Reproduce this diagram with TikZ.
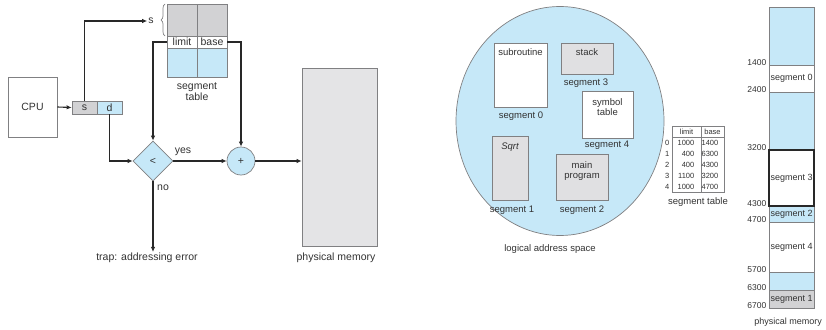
\documentclass[tikz,border=0pt]{standalone}
\usepackage{fontspec}
\setmainfont{Liberation Sans}
\usetikzlibrary{shapes.geometric,arrows.meta,decorations.pathreplacing,calc}

\definecolor{segblue}{RGB}{198,232,248}
\definecolor{cellgray}{RGB}{210,210,212}
\definecolor{memgray}{RGB}{228,228,230}
\definecolor{boxgray}{RGB}{224,224,226}
\definecolor{edgegray}{RGB}{128,128,130}
\definecolor{inkdark}{RGB}{40,40,40}
\definecolor{txt}{RGB}{50,50,50}

\tikzset{
  every node/.style={text=txt},
  plainbox/.style={draw=edgegray, line width=0.7pt, inner sep=0pt},
  lbl/.style={font=\fontsize{10.5}{12}\selectfont, inner sep=1pt},
  rlbl/.style={font=\fontsize{9.5}{11}\selectfont, inner sep=1pt},
  small/.style={font=\fontsize{7.5}{8.5}\selectfont, inner sep=0.5pt},
  memlbl/.style={font=\fontsize{9}{10}\selectfont, inner sep=0.5pt},
  addr/.style={font=\fontsize{8.5}{9.5}\selectfont, inner sep=0.5pt},
  arr/.style={draw=inkdark, line width=1.1pt, -{Latex[length=5pt,width=4.5pt]}},
}

\begin{document}
\begin{tikzpicture}[x=1pt,y=-1pt]
\useasboundingbox (0,0) rectangle (826,329);

% ---------- segmentation hardware ----------
\node[plainbox, minimum width=49, minimum height=60, lbl] (cpu) at (32.5,107) {CPU};
\node[plainbox, fill=cellgray, minimum width=25, minimum height=13, lbl] (sreg) at (84.5,107.5) {s};
\node[plainbox, fill=segblue, minimum width=25, minimum height=13, lbl] (dreg) at (109.5,107.5) {d};
\draw[arr] (cpu.east) -- (sreg.west);

% segment table
\node[plainbox, fill=cellgray, minimum width=30, minimum height=32] (g1) at (182,20) {};
\node[plainbox, fill=cellgray, minimum width=30, minimum height=32] (g2) at (212,20) {};
\node[plainbox, fill=white, minimum width=30, minimum height=12, lbl] (limitcell) at (182,42) {limit};
\node[plainbox, fill=white, minimum width=30, minimum height=12, lbl] (basecell) at (212,42) {base};
\node[plainbox, fill=segblue, minimum width=30, minimum height=29] (b1) at (182,62.5) {};
\node[plainbox, fill=segblue, minimum width=30, minimum height=29] (b2) at (212,62.5) {};
\node[lbl, align=center] (segtablbl) at (197,92) {segment\\[-1pt]table};

% selector into the table
\node[lbl] (sidx) at (151,21) {s};
\draw[edgegray, line width=0.7pt, decorate,
      decoration={brace, amplitude=4pt}] (165,36) -- (165,4);
\draw[arr] (sreg.north) |- (sidx.west);

% comparison and addition
\node[diamond, draw=edgegray, line width=0.7pt, fill=segblue, aspect=1,
      minimum width=40, minimum height=40, inner sep=0pt, lbl] (lt) at (153,161) {<};
\node[circle, draw=edgegray, line width=0.7pt, fill=segblue,
      minimum size=28, inner sep=0pt, lbl] (plus) at (241,161) {+};
\node[plainbox, fill=memgray, minimum width=75, minimum height=178] (phys) at (339.5,157) {};
\node[lbl] (physlbl) at (336,258) {physical memory};
\node[lbl] (trap) at (147,258) {trap: addressing error};

\draw[arr] (limitcell.west) -| (lt.north);
\draw[arr] (basecell.east) -| (plus.north);
\draw[arr] (dreg.south) |- (lt.west);
\draw[arr] (lt.east) -- (plus.west);
\node[lbl] (yes) at (183,152) {yes};
\draw[arr] (plus.east) -- (plus.east -| phys.west);
\draw[arr] (lt.south) -- (lt.south |- trap.north);
\node[lbl, anchor=west] (no) at (156,188) {no};

% ---------- logical address space ----------
\node[ellipse, draw=edgegray, line width=0.7pt, fill=segblue,
      minimum width=208, minimum height=229, inner sep=0pt] (las) at (560,121) {};
\node[plainbox, fill=white, minimum width=53, minimum height=64] (sub) at (520.5,75) {};
\node[rlbl] at (520.5,52) {subroutine};
\node[rlbl] at (521,116) {segment 0};
\node[plainbox, fill=boxgray, minimum width=52, minimum height=31] (stk) at (587,58.5) {};
\node[rlbl] at (587,52) {stack};
\node[rlbl] at (586,83) {segment 3};
\node[plainbox, fill=white, minimum width=51, minimum height=47] (sym) at (607.5,114.5) {};
\node[rlbl, align=center] at (607.5,107.5) {symbol\\[-1pt]table};
\node[rlbl] at (607,145) {segment 4};
\node[plainbox, fill=boxgray, minimum width=36, minimum height=64] (sqrt) at (510,168) {};
\node[rlbl, font=\fontsize{9.5}{11}\selectfont\itshape] at (510,147) {Sqrt};
\node[rlbl] at (512,210) {segment 1};
\node[plainbox, fill=boxgray, minimum width=52, minimum height=46] (mainp) at (582,177) {};
\node[rlbl, align=center] at (582,171.5) {main\\[-1pt]program};
\node[rlbl] at (582,210) {segment 2};
\node[rlbl] at (550,249) {logical address space};

% ---------- segment table with values ----------
\draw[edgegray, line width=0.7pt] (672,126) rectangle (724,192);
\draw[edgegray, line width=0.7pt] (672,137) -- (724,137);
\draw[edgegray, line width=0.7pt] (701,126) -- (701,192);
\node[small] at (686.5,131.5) {limit};
\node[small] at (712.5,131.5) {base};
\foreach \i/\lim/\bas [count=\k from 0] in {0/1000/1400,1/400/6300,2/400/4300,3/1100/3200,4/1000/4700}{
  \node[small, anchor=east] at (670,142.5+11*\k) {\i};
  \node[small, anchor=east] at (695,142.5+11*\k) {\lim};
  \node[small, anchor=east] at (719,142.5+11*\k) {\bas};
}
\node[rlbl] at (698,202) {segment table};

% ---------- physical memory map ----------
\fill[segblue] (769,7) rectangle (814,65);
\fill[white] (769,65) rectangle (814,92);
\fill[segblue] (769,92) rectangle (814,150);
\fill[white] (769,150) rectangle (814,206);
\fill[segblue] (769,206) rectangle (814,222);
\fill[white] (769,222) rectangle (814,272);
\fill[segblue] (769,272) rectangle (814,290);
\fill[cellgray] (769,290) rectangle (814,308);
\foreach \y in {65,92,206,222,272,290}{
  \draw[edgegray, line width=0.7pt] (769,\y) -- (814,\y);
}
\draw[edgegray, line width=0.7pt] (769,7) rectangle (814,308);
\draw[inkdark, line width=1.3pt] (769,150) rectangle (814,206);
\node[memlbl] at (791.5,78.5) {segment 0};
\node[memlbl] at (791.5,178) {segment 3};
\node[memlbl] at (791.5,214) {segment 2};
\node[memlbl] at (791.5,247) {segment 4};
\node[memlbl] at (791.5,299) {segment 1};
\foreach \y/\a in {65/1400,92/2400,150/3200,206/4300,222/4700,272/5700,290/6300,308/6700}{
  \node[addr, anchor=east] at (767,\y-2) {\a};
}
\node[font=\fontsize{9}{10}\selectfont, inner sep=0.5pt] at (788,322) {physical memory};
\end{tikzpicture}
\end{document}
